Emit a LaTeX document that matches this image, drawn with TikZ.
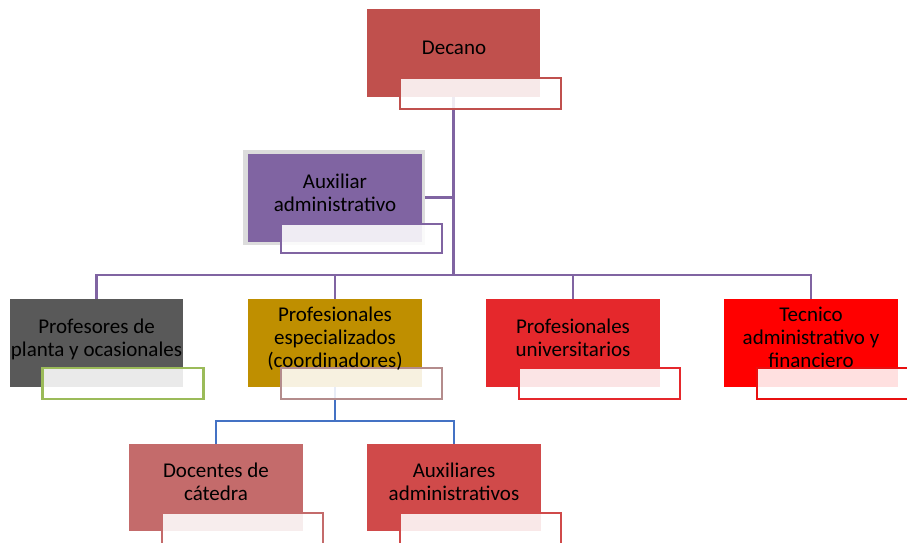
\documentclass[tikz,border=0pt]{standalone}
\usepackage{fontspec}
\setmainfont{Carlito}
\definecolor{cDec}{HTML}{C0504D}
\definecolor{purp}{HTML}{8064A2}
\definecolor{frameg}{HTML}{DCDCDC}
\definecolor{cProf}{HTML}{595959}
\definecolor{cGreen}{HTML}{9BBB59}
\definecolor{cEsp}{HTML}{BF8F00}
\definecolor{cEspB}{HTML}{B48C8C}
\definecolor{cUniv}{HTML}{E5282C}
\definecolor{cTec}{HTML}{FF0000}
\definecolor{cTecB}{HTML}{E81010}
\definecolor{cDoc}{HTML}{C46B6B}
\definecolor{cAux}{HTML}{D04A4A}
\definecolor{blu}{HTML}{4472C4}
\begin{document}
\begin{tikzpicture}[x=1pt,y=-1pt,
  box/.style={draw=none, fill=#1, minimum width=174pt, minimum height=88pt, inner sep=0pt, outer sep=0pt},
  sub/.style={draw=#1, line width=2.3pt, fill=white, fill opacity=0.88, minimum width=161pt, minimum height=31pt, inner sep=0pt, outer sep=0pt},
  txt/.style={anchor=base, inner sep=0pt, outer sep=0pt, text=black, font=\fontsize{21}{23}\selectfont},
  pline/.style={draw=purp, line width=2.8pt},
  bline/.style={draw=blu, line width=2.8pt}]
\useasboundingbox (0,0) rectangle (907,542);
\clip (0,0) rectangle (907,542);
% boxes
\node[box=cDec, minimum width=173pt] (dec) at (453.5,53) {};
\node[draw=none, fill=frameg, minimum width=182pt, minimum height=95pt, inner sep=0pt, outer sep=0pt] (auxframe) at (334,197.5) {};
\node[box=purp] (aux) at (335,198) {};
\node[box=cProf, minimum width=173pt] (prof) at (96.5,343) {};
\node[box=cEsp] (esp) at (335,343) {};
\node[box=cUniv] (univ) at (573,343) {};
\node[box=cTec] (tec) at (811,343) {};
\node[box=cDoc, minimum height=87pt] (doc) at (216,487.5) {};
\node[box=cAux, minimum height=87pt] (aux2) at (454,487.5) {};
% connectors
\coordinate (bus) at (453.5,275);
\coordinate (bbus) at (335,421);
\draw[pline] (dec.south) -- (dec.south |- bus);
\draw[pline] (auxframe.east) -- (auxframe.east -| bus);
\draw[pline] (prof.north) -- (prof.north |- bus) -- (tec.north |- bus) -- (tec.north);
\draw[pline] (esp.north) -- (esp.north |- bus);
\draw[pline] (univ.north) -- (univ.north |- bus);
\draw[bline] (esp.south) -- (esp.south |- bbus);
\draw[bline] (doc.north) -- (doc.north |- bbus) -- (aux2.north |- bbus) -- (aux2.north);
% sub boxes
\node[sub=cDec] (decs) at (480.5,93.5) {};
\node[sub=purp, minimum height=29pt] (auxs) at (361.5,238.5) {};
\node[sub=cGreen] (profs) at (123,383.5) {};
\node[sub=cEspB] (esps) at (361.5,383.5) {};
\node[sub=cUniv] (univs) at (599.5,383.5) {};
\node[sub=cTecB] (tecs) at (837.5,383.5) {};
\node[sub=cDoc] (docs) at (242.5,528.5) {};
\node[sub=cAux] (aux2s) at (480.5,528.5) {};
% texts
\node[txt] (dect) at (454,54.5) {Decano};
\node[txt] (auxt) at (335,188) {\begin{tabular}[t]{@{}c@{}}Auxiliar\\administrativo\end{tabular}};
\node[txt] (proft) at (96.5,333) {\begin{tabular}[t]{@{}c@{}}Profesores de\\planta y ocasionales\end{tabular}};
\node[txt] (espt) at (335,321.5) {\begin{tabular}[t]{@{}c@{}}Profesionales\\especializados\\(coordinadores)\end{tabular}};
\node[txt] (univt) at (573,333) {\begin{tabular}[t]{@{}c@{}}Profesionales\\universitarios\end{tabular}};
\node[txt] (tect) at (811,321.5) {\begin{tabular}[t]{@{}c@{}}Tecnico\\administrativo y\\financiero\end{tabular}};
\node[txt] (doct) at (216,477.5) {\begin{tabular}[t]{@{}c@{}}Docentes de\\cátedra\end{tabular}};
\node[txt] (aux2t) at (454,477.5) {\begin{tabular}[t]{@{}c@{}}Auxiliares\\administrativos\end{tabular}};
\end{tikzpicture}
\end{document}
